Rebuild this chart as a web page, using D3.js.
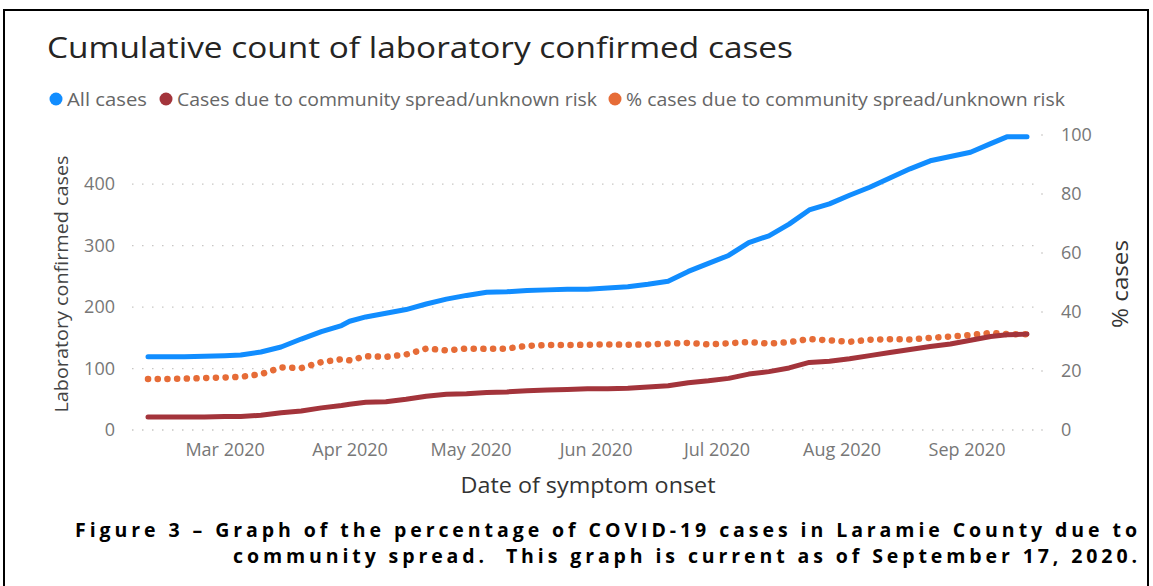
<!DOCTYPE html>
<html>
<head>
<meta charset="utf-8">
<script src="https://cdn.jsdelivr.net/npm/d3@7"></script>
<style>
  body { margin: 0; background: #fff; }
  svg { display: block; }
  text { font-family: "Open Sans", "Noto Sans", sans-serif; }
</style>
</head>
<body>
<svg width="1153" height="586"></svg>
<script>
// DATA
const dates = [
  "2020-02-11", "2020-02-15", "2020-02-20", "2020-02-25", "2020-03-01", "2020-03-05",
  "2020-03-10", "2020-03-15", "2020-03-20", "2020-03-25", "2020-03-30", "2020-04-01",
  "2020-04-05", "2020-04-10", "2020-04-15", "2020-04-20", "2020-04-25", "2020-04-30",
  "2020-05-05", "2020-05-10", "2020-05-15", "2020-05-20", "2020-05-25", "2020-05-30",
  "2020-06-04", "2020-06-09", "2020-06-14", "2020-06-19", "2020-06-24", "2020-06-29",
  "2020-07-04", "2020-07-09", "2020-07-14", "2020-07-19", "2020-07-24", "2020-07-29",
  "2020-08-03", "2020-08-08", "2020-08-13", "2020-08-18", "2020-08-23", "2020-08-28",
  "2020-09-02", "2020-09-07", "2020-09-11", "2020-09-16"
];
const allCases = [
  119, 119, 119, 120, 121, 122,
  127, 135, 148, 160, 170, 177,
  184, 190, 196, 205, 213, 219,
  224, 225, 227, 228, 229, 229,
  231, 233, 237, 242, 258, 271,
  284, 305, 316, 335, 358, 368,
  382, 395, 410, 425, 438, 445,
  452, 466, 477, 477
];
const communityCases = [
  21, 21, 21, 21, 22, 22,
  24, 28, 31, 36, 40, 42,
  45, 46, 50, 55, 58, 59,
  61, 62, 64, 65, 66, 67,
  67, 68, 70, 72, 77, 80,
  84, 91, 95, 101, 110, 112,
  116, 121, 126, 131, 136, 140,
  146, 152, 155, 156
];
const pctCommunity = [
  17.3, 17.3, 17.4, 17.6, 17.8, 18.0,
  18.9, 21.2, 21.0, 23.0, 24.0, 23.6,
  25.0, 24.8, 25.6, 27.6, 27.0, 27.6,
  27.5, 27.6, 28.5, 28.8, 28.8, 28.9,
  29.0, 28.9, 29.0, 29.3, 29.5, 29.0,
  29.4, 29.8, 29.3, 29.8, 30.8, 30.4,
  29.9, 30.6, 30.8, 30.7, 31.2, 31.7,
  32.2, 32.9, 32.5, 32.5
];
const monthTicks = ["2020-03-01", "2020-04-01", "2020-05-01", "2020-06-01",
  "2020-07-01", "2020-08-01", "2020-09-01"];
const leftTicks = [0, 100, 200, 300, 400];
const rightTicks = [0, 20, 40, 60, 80, 100];
const legendLabels = ["All cases", "Cases due to community spread/unknown risk",
  "% cases due to community spread/unknown risk"];
const colors = ["#118DFF", "#A3343B", "#E66C37"];

// SETUP
const svg = d3.select("svg");
const parseTime = d3.timeParse("%Y-%m-%d");
const formatTick = d3.timeFormat("%b %Y");

const xScale = d3.scaleTime()
  .domain([parseTime(dates[0]), parseTime(dates[dates.length - 1])])
  .range([148, 1027]);
const yLeft = d3.scaleLinear().domain([0, 480]).range([430, 135]);
const yRight = d3.scaleLinear().domain([0, 100]).range([430, 135]);

// frame
svg.append("rect")
  .attr("x", 4).attr("y", 10)
  .attr("width", 1144).attr("height", 600)
  .attr("fill", "none").attr("stroke", "#000").attr("stroke-width", 2);

// title
svg.append("text")
  .attr("x", 47).attr("y", 58)
  .attr("font-size", 29)
  .attr("fill", "#252423")
  .attr("textLength", 746)
  .attr("lengthAdjust", "spacingAndGlyphs")
  .text("Cumulative count of laboratory confirmed cases");

// legend
const legendX = [56, 166, 615];
const legendWidth = [80, 420, 439];
legendLabels.forEach((label, i) => {
  svg.append("circle")
    .attr("cx", legendX[i]).attr("cy", 99).attr("r", 6.5)
    .attr("fill", colors[i]);
  svg.append("text")
    .attr("x", legendX[i] + 11).attr("y", 105.5)
    .attr("font-size", 18)
    .attr("fill", "#666")
    .attr("textLength", legendWidth[i])
    .attr("lengthAdjust", "spacingAndGlyphs")
    .text(label);
});

// gridlines
svg.append("g")
  .selectAll("line")
  .data(leftTicks)
  .enter()
  .append("line")
  .attr("x1", 132).attr("x2", 1036)
  .attr("y1", (d) => yLeft(d)).attr("y2", (d) => yLeft(d))
  .attr("stroke", "#C8C6C4")
  .attr("stroke-width", 1.3)
  .attr("stroke-dasharray", "1.5,8.5");

// right axis tick dots
svg.append("g")
  .selectAll("circle")
  .data(rightTicks)
  .enter()
  .append("circle")
  .attr("cx", 1042).attr("cy", (d) => yRight(d)).attr("r", 0.8)
  .attr("fill", "#BDBBB9");

// axes
const xAxis = d3.axisBottom(xScale)
  .tickValues(monthTicks.map(parseTime))
  .tickFormat(formatTick)
  .tickSize(0).tickPadding(0);
const gx = svg.append("g")
  .attr("id", "x-axis")
  .attr("transform", "translate(0,443)")
  .call(xAxis);

const gyl = svg.append("g")
  .attr("id", "y-axis-left")
  .attr("transform", "translate(115,0)")
  .call(d3.axisLeft(yLeft).tickValues(leftTicks).tickSize(0).tickPadding(0));

const gyr = svg.append("g")
  .attr("id", "y-axis-right")
  .attr("transform", "translate(1061,0)")
  .call(d3.axisRight(yRight).tickValues(rightTicks).tickSize(0).tickPadding(0));

[gx, gyl, gyr].forEach((g) => {
  g.select(".domain").remove();
  g.selectAll("text")
    .attr("font-family", "\"Open Sans\", \"Noto Sans\", sans-serif")
    .attr("font-size", 18)
    .attr("fill", "#777");
});
gx.selectAll("text").attr("dy", "0.71em");

// axis titles
svg.append("text")
  .attr("transform", "translate(68,284) rotate(-90)")
  .attr("text-anchor", "middle")
  .attr("font-size", 18)
  .attr("fill", "#444")
  .attr("textLength", 257)
  .attr("lengthAdjust", "spacingAndGlyphs")
  .text("Laboratory confirmed cases");

svg.append("text")
  .attr("transform", "translate(1128,284) rotate(-90)")
  .attr("text-anchor", "middle")
  .attr("font-size", 22)
  .attr("fill", "#333")
  .attr("textLength", 88)
  .attr("lengthAdjust", "spacingAndGlyphs")
  .text("% cases");

svg.append("text")
  .attr("x", 588).attr("y", 493)
  .attr("text-anchor", "middle")
  .attr("font-size", 21)
  .attr("fill", "#333")
  .attr("textLength", 255)
  .attr("lengthAdjust", "spacingAndGlyphs")
  .text("Date of symptom onset");

// lines
const rows = dates.map((d, i) => ({
  date: parseTime(d),
  all: allCases[i],
  community: communityCases[i],
  pct: pctCommunity[i],
}));

const lineAll = d3.line().x((d) => xScale(d.date)).y((d) => yLeft(d.all));
const lineCommunity = d3.line().x((d) => xScale(d.date)).y((d) => yLeft(d.community));
const linePct = d3.line().x((d) => xScale(d.date)).y((d) => yRight(d.pct));

svg.append("path")
  .datum(rows)
  .attr("d", linePct)
  .attr("fill", "none")
  .attr("stroke", colors[2])
  .attr("stroke-width", 6.5)
  .attr("stroke-linecap", "round")
  .attr("stroke-dasharray", "0.1,9.6");

svg.append("path")
  .datum(rows)
  .attr("d", lineCommunity)
  .attr("fill", "none")
  .attr("stroke", colors[1])
  .attr("stroke-width", 5)
  .attr("stroke-linecap", "round")
  .attr("stroke-linejoin", "round");

svg.append("path")
  .datum(rows)
  .attr("d", lineAll)
  .attr("fill", "none")
  .attr("stroke", colors[0])
  .attr("stroke-width", 5)
  .attr("stroke-linecap", "round")
  .attr("stroke-linejoin", "round");

// caption
const caption = [
  "Figure 3 \u2013 Graph of the percentage of COVID-19 cases in Laramie County due to",
  "community spread.  This graph is current as of September 17, 2020."
];
const captionWidth = [1062, 904];
caption.forEach((line, i) => {
  svg.append("text")
    .attr("x", 1137).attr("y", 537 + i * 26)
    .attr("text-anchor", "end")
    .attr("font-family", "\"Liberation Sans\", Arial, sans-serif")
    .attr("font-weight", "bold")
    .attr("font-size", 19.5)
    .attr("fill", "#000")
    .attr("textLength", captionWidth[i])
    .attr("lengthAdjust", "spacing")
    .style("white-space", "pre")
    .text(line);
});
</script>
</body>
</html>
